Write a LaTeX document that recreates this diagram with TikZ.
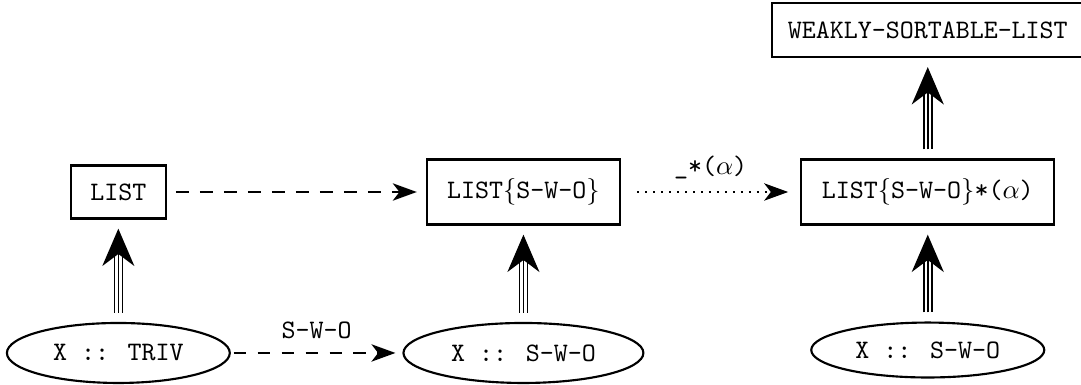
\documentclass[tikz,border=0pt]{standalone}
\usepackage{amsmath,amssymb}
\usepackage{tikz}
\usetikzlibrary{arrows.meta,shapes.geometric}

\tikzset{
  spec/.style={draw, line width=0.8pt, inner sep=0pt, font=\ttfamily},
  param/.style={draw, ellipse, line width=0.8pt, inner sep=0pt, font=\ttfamily},
  view/.style={line width=0.8pt, dash pattern=on 4.8pt off 4.2pt,
    -{Stealth[length=9pt,width=6.5pt,inset=2.5pt]}},
  instview/.style={line width=0.8pt, dash pattern=on 0.6pt off 2.4pt,
    -{Stealth[length=9pt,width=6.5pt,inset=2.5pt]}},
  inclpar/.style={line width=0.6pt, double, double distance=2.4pt,
    shorten <=3.4pt, shorten >=13pt},
  incltip/.style={line width=0.6pt, shorten <=3.4pt, shorten >=3.4pt,
    -{Stealth[length=14pt,width=12pt,inset=4.5pt]}}
}

\begin{document}
\begin{tikzpicture}
\useasboundingbox (0,0) rectangle (14.25,5.075);

% Modules
\node[spec, minimum width=35.6pt, minimum height=19.9pt] (list) at (1.56,2.544) {LIST};
\node[spec, minimum width=72.4pt, minimum height=24.4pt] (lists) at (6.90,2.544)
  {LIST$\{$S-W-O$\}$};
\node[spec, minimum width=94.9pt, minimum height=24.4pt] (lista) at (12.23,2.544)
  {LIST$\{$S-W-O$\}$*($\alpha$)};
\node[spec, minimum width=117pt, minimum height=20.2pt] (weak) at (12.23,4.679)
  {WEAKLY-SORTABLE-LIST};

% Parameter theories
\node[param, minimum width=83.6pt, minimum height=22.5pt] (triv) at (1.56,0.422) {X :: TRIV};
\node[param, minimum width=90pt, minimum height=22.5pt] (swoa) at (6.90,0.422) {X :: S-W-O};
\node[param, minimum width=87.4pt, minimum height=20.6pt] (swob) at (12.23,0.461) {X :: S-W-O};

% Views
\draw[view, shorten <=3.4pt, shorten >=3.4pt] (list) -- (lists);
\draw[view, shorten <=1pt, shorten >=2.6pt] (triv) -- node[above=1.5pt, font=\ttfamily] (lbla) {S-W-O} (swoa);
\draw[instview, shorten <=6pt, shorten >=4.5pt] (lists) -- node[above=1pt] (lblb)
  {\texttt{\_*(}$\alpha$\texttt{)}} (lista);

% Inclusions
\foreach \a/\b in {triv/list, swoa/lists, swob/lista, lista/weak} {
  \draw[inclpar] (\a) -- (\b);
  \draw[incltip] (\a) -- (\b);
}
\end{tikzpicture}
\end{document}
